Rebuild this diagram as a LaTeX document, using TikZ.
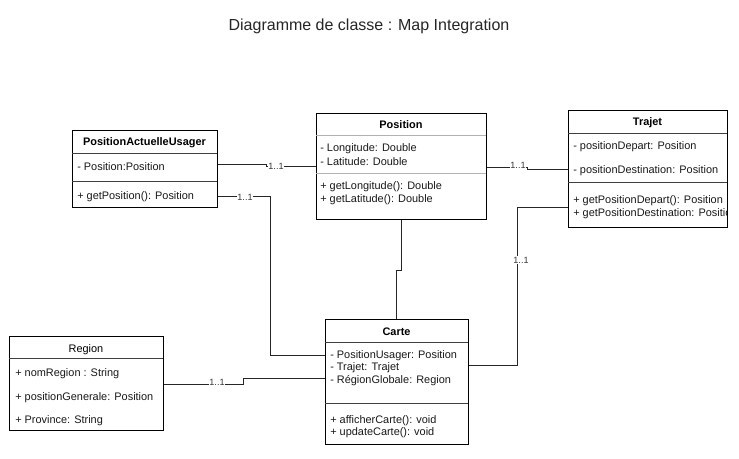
\documentclass[tikz,border=0pt]{standalone}
\usepackage{fontspec}
\setmainfont{Liberation Sans}
\usetikzlibrary{fit,calc}
\begin{document}
\begin{tikzpicture}[x=0.75pt,y=-0.75pt,
  cls/.style={draw=black, line width=0.75pt, inner sep=0pt},
  sepline/.style={line width=0.75pt, draw=black!75},
  lightsep/.style={line width=0.75pt, draw=black!30},
  txt/.style={anchor=west, inner sep=0pt, font=\fontsize{8.2}{10}\selectfont, text=black!90},
  ttl/.style={inner sep=0pt, font=\bfseries\fontsize{8.2}{10}\selectfont},
  ttlr/.style={inner sep=0pt, font=\fontsize{8.2}{10}\selectfont},
  conn/.style={line width=0.75pt, draw=black!85},
  mult/.style={fill=white, inner sep=0.6pt, font=\fontsize{6.8}{8}\selectfont, text=black!80}]
\fill[white] (0,0) rectangle (739,459);
\useasboundingbox (0,0) rectangle (739,459);

\node[font=\fontsize{12}{14}\selectfont, text=black!85, inner sep=0pt] (title) at (369,26) {Diagramme de classe : Map Integration};

% PositionActuelleUsager
\coordinate (pau-nw) at (72,131); \coordinate (pau-se) at (217,208);
\node[cls, fit=(pau-nw)(pau-se)] (pau) {};
\node[ttl] (pau-t) at (144.5,142.5) {PositionActuelleUsager};
\draw[sepline] (72,154) -- (217,154);
\draw[sepline] (72,182) -- (217,182);
\node[txt] (pau-a1) at (77,166.5) {- Position:Position};
\node[txt] (pau-m1) at (77,196.5) {+ getPosition(): Position};

% Position
\coordinate (pos-nw) at (316,114); \coordinate (pos-se) at (486,220);
\node[cls, fit=(pos-nw)(pos-se)] (pos) {};
\node[ttl] (pos-t) at (401,124.5) {Position};
\draw[lightsep] (316,136) -- (486,136);
\draw[lightsep] (316,174) -- (486,174);
\node[txt] (pos-a1) at (320,148.5) {- Longitude: Double};
\node[txt] (pos-a2) at (320,162) {- Latitude: Double};
\node[txt] (pos-m1) at (320,186.5) {+ getLongitude(): Double};
\node[txt] (pos-m2) at (320,199.5) {+ getLatitude(): Double};

% Trajet
\coordinate (tr-nw) at (568,111); \coordinate (tr-se) at (727,228);
\node[cls, fit=(tr-nw)(tr-se)] (trajet) {};
\node[ttl] (tr-t) at (647.5,123) {Trajet};
\draw[sepline] (568,134) -- (727,134);
\draw[sepline] (568,183) -- (727,183);
\node[txt] (tr-a1) at (573,146.5) {- positionDepart: Position};
\node[txt] (tr-a2) at (573,171) {- positionDestination: Position};
\node[txt] (tr-m1) at (573,200.5) {+ getPositionDepart(): Position};
\begin{scope}
\clip (568,205) rectangle (726,222);
\node[txt] (tr-m2) at (573,213.5) {+ getPositionDestination: Position};
\end{scope}

% Carte
\coordinate (ca-nw) at (325,320); \coordinate (ca-se) at (468,445);
\node[cls, fit=(ca-nw)(ca-se)] (carte) {};
\node[ttl] (ca-t) at (396.5,331.5) {Carte};
\draw[sepline] (325,343) -- (468,343);
\draw[sepline] (325,404) -- (468,404);
\node[txt] (ca-a1) at (330,355.5) {- PositionUsager: Position};
\node[txt] (ca-a2) at (330,368) {- Trajet: Trajet};
\node[txt] (ca-a3) at (330,380.5) {- RégionGlobale: Region};
\node[txt] (ca-m1) at (330,420.5) {+ afficherCarte(): void};
\node[txt] (ca-m2) at (330,433) {+ updateCarte(): void};

% Region
\coordinate (re-nw) at (9,337); \coordinate (re-se) at (163,431);
\node[cls, fit=(re-nw)(re-se)] (region) {};
\node[ttlr] (re-t) at (86,349.5) {Region};
\draw[sepline] (9,359) -- (163,359);
\node[txt] (re-a1) at (15,373.5) {+ nomRegion : String};
\node[txt] (re-a2) at (15,397.5) {+ positionGenerale: Position};
\node[txt] (re-a3) at (15,420.5) {+ Province: String};

% Connectors
\draw[conn] ($(pau.north east)+(0,34)$) -- ++(49,0) -- ++(0,2) -- ($(pos.north west)+(0,53)$);
\draw[conn] ($(pau.north east)+(0,66)$) -- ++(53,0) |- ($(carte.north west)+(0,36)$);
\draw[conn] (pos.south) -- ++(0,50) -| (carte.north);
\draw[conn] ($(pos.north east)+(0,54)$) -- ++(41,0) -- ++(0,2) -- ($(trajet.north west)+(0,59)$);
\draw[conn] ($(trajet.north west)+(0,97)$) -- ++(-50,0) |- ($(carte.north east)+(0,46)$);
\draw[conn] ($(region.north east)+(0,48)$) -- ++(80,0) -- ++(0,-6) -- ($(carte.north west)+(0,59)$);

% Multiplicities
\node[mult] (mu1) at (276,166) {1..1};
\node[mult] (mu2) at (245,197) {1..1};
\node[mult] (mu3) at (518,165.5) {1..1};
\node[mult] (mu4) at (521,260) {1..1};
\node[mult] (mu5) at (217,382) {1..1};
\end{tikzpicture}
\end{document}
